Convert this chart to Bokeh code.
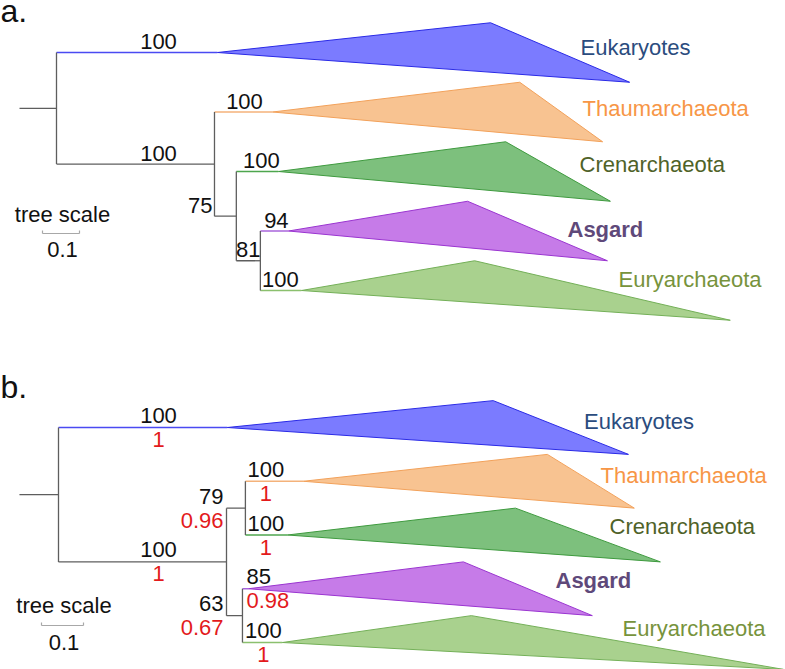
from bokeh.plotting import figure
from bokeh.layouts import column
from bokeh.models import Range1d
from bokeh.embed import file_html
from bokeh.resources import INLINE
from bokeh.core.properties import value

# ---------------- data ----------------
clades = ["Eukaryotes", "Thaumarchaeota", "Crenarchaeota", "Asgard", "Euryarchaeota"]

# panel a : (Euk, (Thaum, (Cren, (Asgard, Eury))))
a_nodes = ["root", "Eukaryotes", "Archaea", "Thaumarchaeota", "n75",
           "Crenarchaeota", "n81", "Asgard", "Euryarchaeota"]
a_parent = [None, "root", "root", "Archaea", "Archaea", "n75", "n75", "n81", "n81"]
a_length = [0.100, 0.435, 0.427, 0.157, 0.059, 0.114, 0.065, 0.076, 0.111]
a_bootstrap = [None, 100, 100, 100, 75, 100, 81, 94, 100]
a_clade_min = [0.738, 0.668, 0.614, 0.484, 0.468]
a_clade_max = [1.114, 0.892, 0.897, 0.862, 1.159]

# panel b : (Euk, ((Thaum, Cren), (Asgard, Eury)))
b_nodes = ["root", "Eukaryotes", "Archaea", "n79", "Thaumarchaeota",
           "Crenarchaeota", "n63", "Asgard", "Euryarchaeota"]
b_parent = [None, "root", "root", "Archaea", "n79", "n79", "Archaea", "n63", "n63"]
b_length = [0.093, 0.402, 0.400, 0.045, 0.138, 0.100, 0.038, 0.014, 0.095]
b_bootstrap = [None, 100, 100, 79, 100, 100, 63, 85, 100]
b_posterior = [None, 1, 1, 0.96, 1, 1, 0.67, 0.98, 1]
b_clade_min = [0.633, 0.581, 0.543, 0.512, 0.450]
b_clade_max = [0.955, 0.788, 0.888, 0.819, 1.193]

scale_bar_value = 0.1

# ---------------- styles / layout ----------------
FONT = value("Liberation Sans")
FS = "22px"
FIX = -8        # baseline correction for 22px text
FIX_BIG = -11   # baseline correction for 32px text
W = 785
clade_fill = ["#7B7BFF", "#F8C391", "#7DC07D", "#C67BE8", "#A9D18E"]
clade_line = ["#2A2AE6", "#F2A15A", "#3F9A3F", "#9A35D0", "#74B058"]
branch_col = ["#4A4AF2", "#F4B27A", "#4EA64E", "#A865DB", "#8BC06E"]
label_col = ["#2B4C7E", "#F79646", "#4F6228", "#5F497A", "#77933C"]
GRAY = "#5E5E5E"
RED = "#E31A1C"

A = dict(root_px=56, unit_px=370, row0=52, row_px=59.5, top=0, bottom=335,
         letter="a.", letter_base=21,
         sup_dx={"Eukaryotes": (102, "center"), "Archaea": (102, "center"),
                 "Thaumarchaeota": (30, "center"), "n75": (-2, "right"),
                 "Crenarchaeota": (25, "center"), "n81": (12, "center"),
                 "Asgard": (16, "center"), "Euryarchaeota": (20, "center")},
         bs_dy=-3, pp_dy=20,
         lab_x=[580, 582, 579, 567, 618], lab_dy=[3, 4, 1, 6, -3],
         bar_x=42, bar_y=233, ts_dy=-11, sv_dy=24)
B = dict(root_px=58, unit_px=420, row0=427, row_px=53.75, top=335, bottom=669,
         letter="b.", letter_base=397,
         sup_dx={"Eukaryotes": (100, "center"), "Archaea": (100, "center"),
                 "n79": (-3, "right"), "Thaumarchaeota": (20.5, "center"),
                 "Crenarchaeota": (20.5, "center"), "n63": (-3, "right"),
                 "Asgard": (4, "left"), "Euryarchaeota": (21, "center")},
         bs_dy=-4, pp_dy=20,
         lab_x=[583.5, 600, 609, 555, 622], lab_dy=[2, 2, -1, 0, -6],
         bar_x=41, bar_y=625, ts_dy=-12, sv_dy=25)


def layout_tree(nodes, parent, length):
    idx = {n: i for i, n in enumerate(nodes)}
    children = {n: [] for n in nodes}
    for n, p in zip(nodes, parent):
        if p is not None:
            children[p].append(n)
    x, y = {}, {}

    def setx(n, v):
        x[n] = v
        for c in children[n]:
            setx(c, v + length[idx[c]])
    setx("root", 0.0)

    def sety(n):
        if not children[n]:
            y[n] = float(clades.index(n))
        else:
            ys = [sety(c) for c in children[n]]
            y[n] = (min(ys) + max(ys)) / 2
        return y[n]
    sety("root")
    return x, y, children, idx


def draw_panel(cfg, nodes, parent, length, bootstrap, posterior, cmin, cmax):
    u, r = cfg["unit_px"], cfg["row_px"]
    px2x = lambda px: (px - cfg["root_px"]) / u
    px2y = lambda py: (py - cfg["row0"]) / r
    p = figure(width=W, height=cfg["bottom"] - cfg["top"],
               x_range=Range1d(px2x(0), px2x(W)),
               y_range=Range1d(px2y(cfg["bottom"]), px2y(cfg["top"])),
               output_backend="svg", toolbar_location=None, min_border=0,
               x_axis_location=None, y_axis_location=None)
    p.grid.visible = False
    p.outline_line_color = None
    p.background_fill_color = "white"

    x, y, children, idx = layout_tree(nodes, parent, length)

    # root stub
    p.segment(x0=[-length[0]], y0=[y["root"]], x1=[0], y1=[y["root"]],
              line_color=GRAY, line_width=1.3)
    # horizontal branches
    for n, par in zip(nodes, parent):
        if par is None:
            continue
        col = branch_col[clades.index(n)] if n in clades else GRAY
        p.segment(x0=[x[par]], y0=[y[n]], x1=[x[n]], y1=[y[n]],
                  line_color=col, line_width=1.3)
    # vertical connectors
    for n in nodes:
        if children[n]:
            ys = [y[c] for c in children[n]]
            p.segment(x0=[x[n]], y0=[min(ys)], x1=[x[n]], y1=[max(ys)],
                      line_color=GRAY, line_width=1.3)
    # collapsed clade triangles
    for i, c in enumerate(clades):
        x0, y0 = x[c], y[c]
        p.patch(x=[x0, x0 + cmin[i], x0 + cmax[i]], y=[y0, y0 - 0.5, y0 + 0.5],
                fill_color=clade_fill[i], line_color=clade_line[i], line_width=1)
    # support values
    for n, par in zip(nodes, parent):
        i = idx[n]
        if bootstrap[i] is None:
            continue
        dx, align = cfg["sup_dx"][n]
        tx = x[par] + dx / u
        p.text(x=[tx], y=[y[n]], text=[str(bootstrap[i])], text_align=align,
               text_baseline="alphabetic", y_offset=cfg["bs_dy"] + FIX,
               text_font=FONT, text_font_size=FS, text_color="#111111")
        if posterior is not None:
            p.text(x=[tx], y=[y[n]], text=[f"{posterior[i]:g}"], text_align=align,
                   text_baseline="alphabetic", y_offset=cfg["pp_dy"] + FIX,
                   text_font=FONT, text_font_size=FS, text_color=RED)
    # clade names
    for i, c in enumerate(clades):
        p.text(x=[px2x(cfg["lab_x"][i])], y=[y[c]], text=[c], text_align="left",
               text_baseline="alphabetic", y_offset=cfg["lab_dy"][i] + FIX,
               text_font=FONT, text_font_size=FS, text_color=label_col[i],
               text_font_style="bold" if c == "Asgard" else "normal")
    # scale bar
    bx0 = px2x(cfg["bar_x"])
    bx1 = bx0 + scale_bar_value
    by = px2y(cfg["bar_y"])
    cap = 3 / r
    p.segment(x0=[bx0, bx0, bx1], y0=[by, by, by], x1=[bx1, bx0, bx1], y1=[by, by - cap, by - cap],
              line_color="#A8A8A8", line_width=1.2)
    bxc = (bx0 + bx1) / 2 + 1.5 / u
    p.text(x=[bxc], y=[by], text=["tree scale"], text_align="center",
           text_baseline="alphabetic", y_offset=cfg["ts_dy"] + FIX,
           text_font=FONT, text_font_size=FS, text_color="#111111")
    p.text(x=[bxc], y=[by], text=[f"{scale_bar_value:g}"], text_align="center",
           text_baseline="alphabetic", y_offset=cfg["sv_dy"] + FIX,
           text_font=FONT, text_font_size=FS, text_color="#111111")
    # panel letter
    p.text(x=[px2x(0)], y=[px2y(cfg["letter_base"])], text=[cfg["letter"]],
           text_align="left", text_baseline="alphabetic", y_offset=FIX_BIG,
           text_font=FONT, text_font_size="32px", text_color="#111111")
    return p


pa = draw_panel(A, a_nodes, a_parent, a_length, a_bootstrap, None, a_clade_min, a_clade_max)
pb = draw_panel(B, b_nodes, b_parent, b_length, b_bootstrap, b_posterior, b_clade_min, b_clade_max)

layout = column(pa, pb, spacing=0)
open("out.html", "w").write(file_html(layout, INLINE))
